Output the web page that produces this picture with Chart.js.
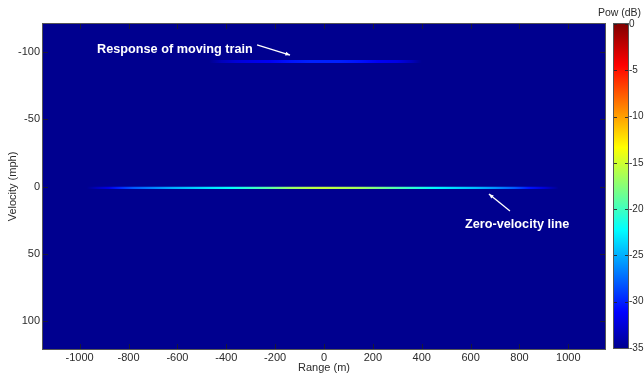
<!DOCTYPE html>
<html>
<head>
<meta charset="utf-8">
<script src="https://cdn.jsdelivr.net/npm/chart.js@4/dist/chart.umd.min.js"></script>
<style>
  body { margin: 0; background: #fff; }
  #wrap { position: relative; width: 644px; height: 376px; }
  #main { position: absolute; left: 0; top: 0; }
  #cbar { position: absolute; left: 590px; top: 0; }
</style>
</head>
<body>
<div id="wrap">
  <canvas id="main" width="644" height="376"></canvas>
  <canvas id="cbar" width="54" height="376"></canvas>
</div>
<script>
// tick labels
const xTicks = [-1000, -800, -600, -400, -200, 0, 200, 400, 600, 800, 1000]
const yTicks = [-100, -50, 0, 50, 100]
const cbTicks = [0, -5, -10, -15, -20, -25, -30, -35]

// zero-velocity line (range m -> power dB)
const zeroVelocity = 1
const zeroRange = [-970, -930, -880, -840, -780, -700, -620, -540, -460, -380, -300, -220, -140, -60, 0, 60, 140, 220, 300, 380, 460, 540, 620, 700, 780, 840, 900, 960]
const zeroPow = [-35, -33.5, -32, -30, -28, -26.5, -25, -24, -23, -22, -20.5, -19, -17, -16, -15.5, -16, -16.5, -18, -19.5, -21, -22.5, -23.5, -24.5, -26, -28, -30.5, -32.5, -35]

// response of the moving train
const trainVelocity = -93
const trainRange = [-470, -420, -360, -300, -220, -140, -60, 0, 60, 140, 220, 300, 360, 400]
const trainPow = [-35, -33.5, -32.5, -32, -31.5, -30.5, -30, -30, -30, -30.5, -31.5, -32, -33.5, -35]

const powMin = -35
const powMax = 0

const FONT = '"Liberation Sans", Arial, sans-serif'
const TXT = '#2b2b2b'

// matlab jet(64)
const jetStops = [
    [0, [0, 0, 143]],
    [0.111, [0, 0, 255]],
    [0.365, [0, 255, 255]],
    [0.619, [255, 255, 0]],
    [0.873, [255, 0, 0]],
    [1, [128, 0, 0]]
]

const jet = (db) => {
    let t = (db - powMin) / (powMax - powMin)
    t = Math.max(0, Math.min(1, t))
    for (let i = 1; i < jetStops.length; i++) {
        const [t1, c1] = jetStops[i]
        const [t0, c0] = jetStops[i - 1]
        if (t <= t1) {
            const f = (t - t0) / (t1 - t0)
            const c = c0.map((v, k) => Math.round(v + (c1[k] - v) * f))
            return `rgb(${c[0]},${c[1]},${c[2]})`
        }
    }
    return 'rgb(128,0,0)'
}

const lineGradient = (chart, ranges, pows) => {
    const {ctx, chartArea, scales} = chart
    if (!chartArea) return null
    const g = ctx.createLinearGradient(chartArea.left, 0, chartArea.right, 0)
    const w = chartArea.right - chartArea.left
    ranges.forEach((r, i) => {
        const t = (scales.x.getPixelForValue(r) - chartArea.left) / w
        g.addColorStop(Math.max(0, Math.min(1, t)), jet(pows[i]))
    })
    return g
}

// text notes, in data coordinates
const notes = [
    {text: 'Response of moving train', x: -929, y: -99.4, from: [-274, -105.4], to: [-139, -97.9]},
    {text: 'Zero-velocity line', x: 577, y: 30.9, from: [761, 18.2], to: [675, 5.6]}
]

const plotBg = {
    id: 'plotBg',
    beforeDatasetsDraw(chart) {
        const {ctx, chartArea: a} = chart
        ctx.save()
        ctx.fillStyle = jet(powMin)
        ctx.fillRect(a.left, a.top, a.right - a.left, a.bottom - a.top)
        ctx.restore()
    }
}

const frameTicks = {
    id: 'frameTicks',
    afterDatasetsDraw(chart) {
        const {ctx, chartArea: a, scales} = chart
        ctx.save()
        ctx.strokeStyle = 'rgba(30,30,40,0.85)'
        ctx.lineWidth = 1
        ctx.beginPath()
        xTicks.forEach(v => {
            const px = Math.round(scales.x.getPixelForValue(v)) + 0.5
            ctx.moveTo(px, a.bottom); ctx.lineTo(px, a.bottom - 5)
            ctx.moveTo(px, a.top); ctx.lineTo(px, a.top + 5)
        })
        yTicks.forEach(v => {
            const py = Math.round(scales.y.getPixelForValue(v)) + 0.5
            ctx.moveTo(a.left, py); ctx.lineTo(a.left + 5, py)
            ctx.moveTo(a.right, py); ctx.lineTo(a.right - 5, py)
        })
        ctx.stroke()
        ctx.strokeStyle = '#555'
        ctx.strokeRect(Math.round(a.left) - 0.5, Math.round(a.top) - 0.5, Math.round(a.right - a.left) + 1, Math.round(a.bottom - a.top) + 1)
        ctx.restore()
    }
}

const noteLayer = {
    id: 'noteLayer',
    afterDraw(chart) {
        const {ctx, scales} = chart
        const X = v => scales.x.getPixelForValue(v)
        const Y = v => scales.y.getPixelForValue(v)
        ctx.save()
        ctx.fillStyle = '#fff'
        ctx.strokeStyle = '#fff'
        ctx.font = `bold 12.7px ${FONT}`
        ctx.textBaseline = 'alphabetic'
        notes.forEach(n => {
            ctx.fillText(n.text, X(n.x), Y(n.y))
            const x0 = X(n.from[0]), y0 = Y(n.from[1])
            const x1 = X(n.to[0]), y1 = Y(n.to[1])
            ctx.lineWidth = 1.3
            ctx.beginPath()
            ctx.moveTo(x0, y0)
            ctx.lineTo(x1, y1)
            ctx.stroke()
            const ang = Math.atan2(y1 - y0, x1 - x0)
            ctx.beginPath()
            ctx.moveTo(x1, y1)
            ctx.lineTo(x1 - 5 * Math.cos(ang - 0.4), y1 - 5 * Math.sin(ang - 0.4))
            ctx.lineTo(x1 - 5 * Math.cos(ang + 0.4), y1 - 5 * Math.sin(ang + 0.4))
            ctx.closePath()
            ctx.fill()
        })
        ctx.restore()
    }
}

const tickFont = {family: FONT, size: 11}
const plain = v => String(v)

new Chart(document.getElementById('main'), {
    type: 'line',
    data: {
        datasets: [
            {
                label: 'zero',
                data: zeroRange.map(r => ({x: r, y: zeroVelocity})),
                borderColor: c => lineGradient(c.chart, zeroRange, zeroPow),
                borderWidth: 2.2,
                pointRadius: 0,
                tension: 0
            },
            {
                label: 'train',
                data: trainRange.map(r => ({x: r, y: trainVelocity})),
                borderColor: c => lineGradient(c.chart, trainRange, trainPow),
                borderWidth: 3,
                pointRadius: 0,
                tension: 0
            }
        ]
    },
    options: {
        responsive: false,
        animation: false,
        devicePixelRatio: 1,
        layout: {padding: {top: 24, right: 39, left: 0, bottom: 0}},
        plugins: {legend: {display: false}, tooltip: {enabled: false}},
        scales: {
            x: {
                type: 'linear',
                min: -1150,
                max: 1150,
                afterBuildTicks: s => { s.ticks = xTicks.map(v => ({value: v})) },
                afterFit: s => { s.height = 27 },
                grid: {display: false, drawTicks: false, tickLength: 0},
                border: {display: false},
                ticks: {font: tickFont, color: TXT, padding: 2, maxRotation: 0, autoSkip: false, callback: plain},
                title: {display: true, text: 'Range (m)', font: tickFont, color: TXT, padding: {top: 0, bottom: 1}}
            },
            y: {
                type: 'linear',
                reverse: true,
                min: -121,
                max: 121,
                afterBuildTicks: s => { s.ticks = yTicks.map(v => ({value: v})) },
                afterFit: s => { s.width = 43 },
                grid: {display: false, drawTicks: false, tickLength: 0},
                border: {display: false},
                ticks: {font: tickFont, color: TXT, padding: 3, autoSkip: false, callback: plain},
                title: {display: true, text: 'Velocity (mph)', font: tickFont, color: TXT, padding: {top: 6, bottom: 0}}
            }
        }
    },
    plugins: [plotBg, frameTicks, noteLayer]
})

const cbFrame = {
    id: 'cbFrame',
    afterDraw(chart) {
        const {ctx, chartArea: a, scales} = chart
        ctx.save()
        ctx.strokeStyle = 'rgba(30,30,40,0.85)'
        ctx.beginPath()
        cbTicks.forEach(v => {
            const py = Math.round(scales.y.getPixelForValue(v)) + 0.5
            ctx.moveTo(a.left, py); ctx.lineTo(a.left + 3, py)
            ctx.moveTo(a.right, py); ctx.lineTo(a.right - 3, py)
        })
        ctx.stroke()
        ctx.strokeStyle = '#555'
        ctx.strokeRect(Math.round(a.left) - 0.5, Math.round(a.top) - 0.5, Math.round(a.right - a.left) + 1, Math.round(a.bottom - a.top) + 1)
        ctx.fillStyle = TXT
        ctx.font = `10.5px ${FONT}`
        ctx.textAlign = 'center'
        ctx.textBaseline = 'middle'
        ctx.fillText('Pow (dB)', (a.left + a.right) / 2 - 1.5, 13)
        ctx.restore()
    }
}

new Chart(document.getElementById('cbar'), {
    type: 'bar',
    data: {
        labels: ['Pow'],
        datasets: [{
            data: [[powMin, powMax]],
            backgroundColor: c => {
                const {ctx, chartArea, scales} = c.chart
                if (!chartArea) return null
                const g = ctx.createLinearGradient(0, scales.y.getPixelForValue(powMin), 0, scales.y.getPixelForValue(powMax))
                jetStops.forEach(([t, col]) => g.addColorStop(t, `rgb(${col[0]},${col[1]},${col[2]})`))
                return g
            },
            borderWidth: 0,
            barPercentage: 1,
            categoryPercentage: 1
        }]
    },
    options: {
        responsive: false,
        animation: false,
        devicePixelRatio: 1,
        layout: {padding: {top: 24, left: 24, right: 0, bottom: 28}},
        plugins: {legend: {display: false}, tooltip: {enabled: false}},
        scales: {
            x: {display: false},
            y: {
                position: 'right',
                min: powMin,
                max: powMax,
                afterBuildTicks: s => { s.ticks = cbTicks.map(v => ({value: v})) },
                afterFit: s => { s.width = 16 },
                grid: {display: false, drawTicks: false, tickLength: 0},
                border: {display: false},
                ticks: {font: {family: FONT, size: 10}, color: TXT, padding: 1, autoSkip: false, callback: plain}
            }
        }
    },
    plugins: [cbFrame]
})
</script>
</body>
</html>
